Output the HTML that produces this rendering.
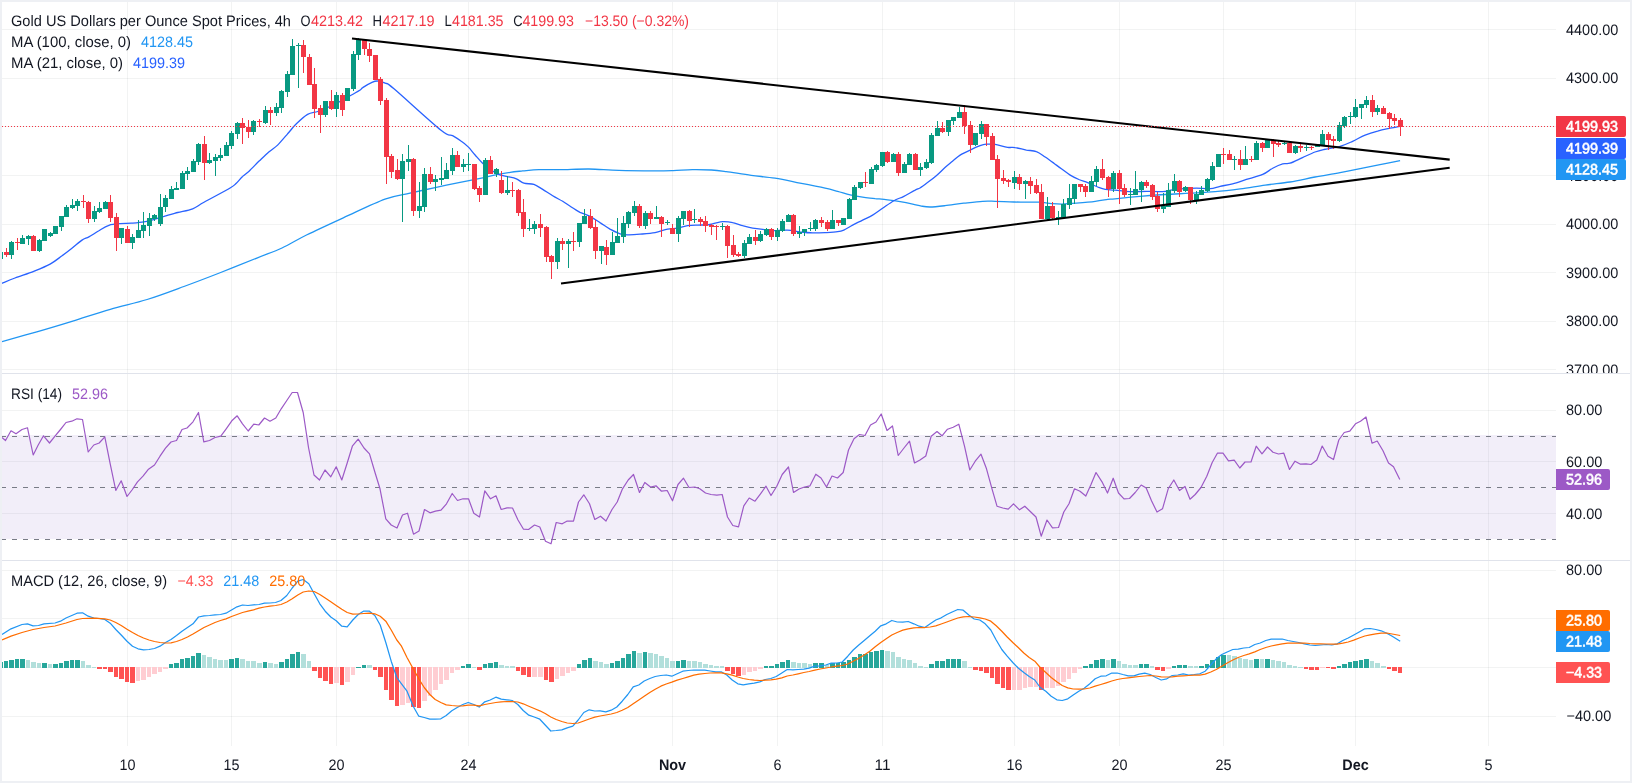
<!DOCTYPE html>
<html><head><meta charset="utf-8"><title>Gold US Dollars per Ounce Spot Prices, 4h</title>
<style>html,body{margin:0;padding:0;background:#fff;overflow:hidden}body{width:1632px;height:783px;position:relative}</style></head>
<body>
<svg width="1632" height="783" viewBox="0 0 1632 783" style="position:absolute;left:0;top:0;will-change:transform;font-family:'Liberation Sans',Arial,sans-serif">
<rect x="0" y="0" width="1632" height="783" fill="#ffffff"/>
<path d="M127.5 2V746 M231.5 2V746 M336.5 2V746 M468.5 2V746 M672.5 2V746 M777.5 2V746 M882.5 2V746 M1014.5 2V746 M1119.5 2V746 M1223.5 2V746 M1355.5 2V746 M1488.5 2V746" stroke="#2a2e39" stroke-opacity="0.06" stroke-width="1" fill="none" shape-rendering="crispEdges"/>
<path d="M2 29.5H1556 M2 78.5H1556 M2 126.5H1556 M2 175.5H1556 M2 224.5H1556 M2 272.5H1556 M2 321.5H1556 M2 369.5H1556 M2 410.5H1556 M2 461.5H1556 M2 513.5H1556 M2 570.5H1556 M2 618.5H1556 M2 667.5H1556 M2 716.5H1556" stroke="#2a2e39" stroke-opacity="0.06" stroke-width="1" fill="none" shape-rendering="crispEdges"/>
<rect x="2" y="435" width="1554" height="104" fill="#7e57c2" fill-opacity="0.1"/>
<path d="M1 436.5H1556" stroke="#787b86" stroke-width="1" stroke-dasharray="5 6" shape-rendering="crispEdges"/>
<path d="M1 487.5H1556" stroke="#787b86" stroke-width="1" stroke-dasharray="5 6" shape-rendering="crispEdges"/>
<path d="M1 539.5H1556" stroke="#787b86" stroke-width="1" stroke-dasharray="5 6" shape-rendering="crispEdges"/>
<clipPath id="cm"><rect x="2" y="2" width="1554" height="371"/></clipPath>
<g clip-path="url(#cm)">
<path d="M2.0 341.7C7.8 340.0 24.8 335.3 36.8 331.8C48.7 328.4 61.3 324.6 73.6 320.8C85.8 317.0 98.1 312.8 110.3 309.3C122.6 305.7 134.9 303.3 147.1 299.5C159.4 295.7 171.7 291.0 183.9 286.5C196.2 282.0 208.4 277.3 220.7 272.5C233.0 267.7 247.3 261.9 257.5 257.8C267.7 253.7 273.8 251.8 282.0 248.0C290.2 244.2 296.3 240.0 306.5 235.0C316.7 230.0 330.2 223.8 343.3 217.8C356.4 211.9 373.9 203.3 385.0 199.2C396.1 195.1 401.7 195.1 410.0 193.2C418.4 191.3 426.7 189.4 435.1 187.6C443.4 185.8 451.8 184.0 460.1 182.3C468.4 180.6 478.9 178.6 485.1 177.3C491.4 176.0 493.5 175.3 497.6 174.4C501.8 173.6 506.0 172.9 510.2 172.3C514.3 171.7 517.9 171.4 522.7 170.9C527.5 170.5 532.7 169.9 538.9 169.7C545.2 169.5 551.9 169.8 560.2 169.7C568.6 169.6 579.2 168.9 589.0 169.0C598.8 169.2 607.7 170.0 618.8 170.3C629.9 170.6 646.5 170.8 655.6 170.9C664.7 170.9 667.1 170.8 673.2 170.6C679.4 170.4 686.0 169.7 692.4 169.6C698.7 169.5 705.8 169.7 711.5 170.0C717.1 170.3 719.6 170.7 726.2 171.6C732.8 172.5 743.0 174.2 751.2 175.3C759.3 176.4 766.9 176.9 775.0 178.2C783.1 179.5 791.7 181.5 800.0 183.2C808.4 184.8 818.8 186.8 825.1 188.2C831.3 189.5 833.4 190.2 837.6 191.3C841.8 192.4 845.9 193.8 850.1 194.8C854.3 195.8 858.4 196.6 862.6 197.2C866.8 197.8 871.0 198.1 875.1 198.6C879.3 199.0 883.5 199.3 887.6 199.8C891.8 200.3 896.0 200.9 900.2 201.6C904.3 202.3 909.1 203.3 912.7 204.1C916.2 204.8 918.5 205.6 921.4 206.1C924.3 206.6 926.1 207.0 930.0 207.0C933.9 206.9 939.4 206.3 945.0 205.7C950.7 205.1 957.5 203.9 963.8 203.2C970.1 202.5 977.4 201.6 982.6 201.3C987.8 201.0 989.9 201.2 995.1 201.3C1000.3 201.4 1006.6 201.8 1013.9 202.0C1021.2 202.1 1032.6 201.9 1038.9 202.2C1045.2 202.5 1047.7 203.3 1051.4 203.6C1055.2 203.9 1057.3 204.1 1061.4 204.1C1065.6 204.0 1070.8 203.7 1076.4 203.2C1082.1 202.7 1090.0 202.0 1095.2 201.3C1100.4 200.7 1104.4 199.9 1107.7 199.4C1111.0 199.0 1109.6 199.4 1115.0 198.8C1120.4 198.3 1131.7 197.1 1140.0 196.3C1148.4 195.6 1156.7 195.0 1165.1 194.5C1173.4 193.9 1181.8 193.7 1190.1 193.2C1198.4 192.7 1206.8 192.3 1215.1 191.6C1223.5 190.9 1231.8 189.9 1240.2 188.8C1248.5 187.8 1256.9 186.2 1265.2 185.1C1273.5 183.9 1281.7 183.3 1290.0 182.0C1298.3 180.6 1306.7 178.6 1315.0 177.0C1323.4 175.4 1331.7 174.2 1340.1 172.6C1348.4 171.0 1357.8 169.1 1365.1 167.6C1372.4 166.1 1378.0 165.0 1383.9 163.8C1389.7 162.7 1397.4 161.2 1400.1 160.7" stroke="#2196f3" stroke-width="1.3" fill="none" stroke-linejoin="round"/>
<path d="M2.0 283.3C4.2 282.4 9.7 280.0 15.0 278.0C20.3 276.0 28.0 273.7 33.8 271.4C39.6 269.0 45.5 266.6 50.1 264.1C54.7 261.6 57.8 258.9 61.3 256.3C64.9 253.8 67.9 251.5 71.3 248.8C74.8 246.1 79.1 242.1 82.0 240.1C84.9 238.1 86.0 238.5 88.9 236.9C91.7 235.4 95.5 232.6 98.9 230.7C102.2 228.7 105.3 226.5 108.9 225.3C112.4 224.1 116.4 223.9 120.2 223.6C123.9 223.2 127.5 223.5 131.4 223.2C135.4 222.9 140.2 222.6 143.9 221.9C147.7 221.3 150.6 220.4 153.9 219.4C157.3 218.5 160.0 217.4 164.0 216.3C167.9 215.1 172.9 213.8 177.7 212.5C182.5 211.3 188.4 210.5 192.7 208.8C197.1 207.1 197.8 205.7 204.0 202.3C210.2 198.8 224.7 191.2 230.1 188.0C235.4 184.8 234.2 185.2 236.3 183.2C238.4 181.3 240.5 178.3 242.6 176.4C244.7 174.4 246.1 173.9 248.8 171.4C251.5 168.8 255.5 164.6 258.8 161.3C262.2 158.1 265.7 154.7 268.8 152.0C272.0 149.2 274.5 148.1 277.6 145.1C280.7 142.0 284.5 137.4 287.6 133.8C290.8 130.3 293.0 127.0 296.4 123.8C299.7 120.6 304.1 116.4 307.6 114.4C311.2 112.4 314.3 112.7 317.7 111.5C321.0 110.4 323.9 109.2 327.7 107.5C331.4 105.8 336.2 103.4 340.2 101.3C344.2 99.2 348.1 96.9 351.5 95.0C354.8 93.1 358.3 91.2 360.2 90.0C362.1 88.8 360.8 88.8 362.7 87.6C364.6 86.3 369.0 83.7 371.5 82.6C374.0 81.5 375.4 80.8 377.7 81.0C380.0 81.1 382.5 81.9 385.2 83.2C388.0 84.5 384.8 81.0 394.0 88.8C403.2 96.6 430.9 122.2 440.7 130.0C450.5 137.8 449.1 133.8 452.6 135.6C456.0 137.5 458.7 139.4 461.3 141.3C464.0 143.1 465.9 144.6 468.2 146.9C470.5 149.2 472.7 152.3 475.1 155.0C477.5 157.7 479.9 160.7 482.6 163.2C485.3 165.7 488.8 168.2 491.4 170.1C494.0 171.9 495.6 173.3 498.3 174.4C501.0 175.5 504.6 175.8 507.7 176.6C510.7 177.3 513.7 177.7 516.4 178.8C519.1 179.9 521.0 182.3 523.9 183.2C526.8 184.1 530.8 183.4 533.9 184.4C537.1 185.5 539.6 187.6 542.7 189.4C545.8 191.3 549.4 193.7 552.7 195.7C556.0 197.7 559.8 199.6 562.7 201.3C565.6 203.1 567.4 204.5 570.2 206.3C573.1 208.2 576.7 210.6 580.0 212.3C583.3 213.9 586.7 214.6 590.0 216.3C593.4 218.0 596.7 220.4 600.0 222.6C603.4 224.7 606.7 227.2 610.0 229.1C613.4 230.9 617.1 232.9 620.1 233.8C623.0 234.8 624.2 234.8 627.6 234.8C630.9 234.9 635.5 234.6 640.1 234.2C644.7 233.8 650.5 233.4 655.1 232.6C659.7 231.7 663.9 229.9 667.6 229.2C671.4 228.5 674.3 228.8 677.6 228.2C681.0 227.6 684.3 226.2 687.6 225.7C691.0 225.2 694.3 225.2 697.6 225.1C701.0 224.9 704.7 225.1 707.7 224.8C710.6 224.5 712.7 223.7 715.2 223.2C717.7 222.7 719.8 221.8 722.7 221.7C725.6 221.6 729.4 221.9 732.7 222.6C736.0 223.2 739.4 224.7 742.7 225.7C746.0 226.6 749.4 227.6 752.7 228.2C756.1 228.8 759.4 229.1 762.7 229.4C766.1 229.7 770.7 229.8 772.7 230.1C774.8 230.3 772.5 230.7 775.0 230.7C777.5 230.7 783.3 229.9 787.5 230.1C791.7 230.3 795.9 231.5 800.0 232.0C804.2 232.4 808.4 232.8 812.5 232.9C816.7 233.0 820.9 232.8 825.1 232.6C829.2 232.4 834.4 232.2 837.6 231.7C840.7 231.3 841.3 231.2 843.8 230.1C846.3 229.0 849.5 226.8 852.6 225.1C855.7 223.4 859.3 221.8 862.6 220.1C865.9 218.4 869.3 217.1 872.6 215.1C876.0 213.1 879.1 210.6 882.6 208.2C886.2 205.8 890.4 202.7 893.9 200.7C897.4 198.7 900.4 198.1 903.9 196.3C907.5 194.5 912.5 191.4 915.2 190.1C917.9 188.7 917.9 189.2 920.0 188.0C922.1 186.8 924.8 184.7 927.5 182.6C930.2 180.6 933.4 178.2 936.3 175.7C939.2 173.2 942.3 170.0 945.0 167.6C947.7 165.2 950.0 163.4 952.5 161.3C955.0 159.3 957.1 157.0 960.1 155.1C963.0 153.2 966.7 151.6 970.1 150.1C973.4 148.5 977.4 146.7 980.1 145.7C982.8 144.7 983.8 144.4 986.3 144.2C988.8 144.0 991.5 143.9 995.1 144.4C998.6 145.0 1004.3 146.8 1007.6 147.3C1010.9 147.8 1012.0 147.1 1015.1 147.6C1018.2 148.0 1022.8 149.4 1026.4 150.1C1029.9 150.7 1033.3 150.4 1036.4 151.6C1039.5 152.7 1042.2 155.0 1045.2 157.0C1048.1 158.9 1051.2 161.2 1053.9 163.2C1056.6 165.2 1058.7 166.9 1061.4 168.8C1064.1 170.8 1067.3 173.3 1070.2 175.1C1073.1 176.9 1076.0 178.2 1078.9 179.5C1081.9 180.7 1084.6 181.4 1087.7 182.6C1090.8 183.9 1094.8 185.9 1097.7 187.0C1100.6 188.1 1102.5 188.9 1105.2 189.4C1107.9 189.9 1112.4 190.0 1114.0 190.1C1115.6 190.2 1113.2 189.9 1115.0 190.1C1116.8 190.3 1121.7 191.1 1125.0 191.3C1128.4 191.6 1131.5 191.7 1135.0 191.7C1138.6 191.7 1141.7 191.4 1146.3 191.3C1150.9 191.3 1158.2 191.8 1162.6 191.6C1166.9 191.3 1169.0 190.3 1172.6 189.8C1176.1 189.3 1179.9 188.9 1183.8 188.6C1187.8 188.3 1192.0 188.2 1196.4 188.2C1200.7 188.2 1206.2 188.9 1210.1 188.6C1214.1 188.3 1216.4 187.1 1220.1 186.3C1223.9 185.5 1228.3 185.0 1232.6 183.8C1237.0 182.7 1241.4 181.0 1246.4 179.4C1251.4 177.9 1258.3 176.3 1262.7 174.4C1267.1 172.6 1269.4 170.0 1272.7 168.2C1276.0 166.4 1279.8 164.6 1282.7 163.8C1285.6 163.0 1286.7 164.3 1290.0 163.2C1293.3 162.2 1298.3 159.5 1302.5 157.6C1306.7 155.7 1311.5 153.3 1315.0 152.0C1318.6 150.6 1319.6 150.4 1323.8 149.5C1328.0 148.5 1335.3 147.7 1340.1 146.3C1344.9 145.0 1348.4 143.2 1352.6 141.3C1356.8 139.4 1360.9 136.8 1365.1 135.1C1369.3 133.4 1373.4 132.2 1377.6 131.1C1381.8 129.9 1386.4 129.0 1390.1 128.2C1393.9 127.4 1398.5 126.6 1400.1 126.3" stroke="#2962ff" stroke-width="1.3" fill="none" stroke-linejoin="round"/>
<path d="M0.0 252h1V259h-1zM-2.0 252h5V259h-5zM11.0 241h1V259h-1zM9.0 242h5V255h-5zM22.0 235h1V244h-1zM20.0 238h5V244h-5zM28.0 235h1V245h-1zM26.0 236h5V239h-5zM39.0 239h1V252h-1zM37.0 240h5V251h-5zM44.0 229h1V241h-1zM42.0 229h5V241h-5zM50.0 232h1V237h-1zM48.0 233h5V236h-5zM55.0 226h1V234h-1zM53.0 226h5V234h-5zM61.0 216h1V231h-1zM59.0 216h5V227h-5zM66.0 205h1V217h-1zM64.0 207h5V217h-5zM72.0 199h1V209h-1zM70.0 205h5V208h-5zM77.0 199h1V211h-1zM75.0 201h5V206h-5zM94.0 206h1V222h-1zM92.0 211h5V219h-5zM99.0 202h1V213h-1zM97.0 208h5V212h-5zM105.0 201h1V209h-1zM103.0 202h5V209h-5zM121.0 228h1V244h-1zM119.0 228h5V238h-5zM132.0 234h1V249h-1zM130.0 237h5V243h-5zM138.0 220h1V238h-1zM136.0 230h5V238h-5zM143.0 212h1V238h-1zM141.0 225h5V231h-5zM149.0 213h1V236h-1zM147.0 218h5V226h-5zM154.0 214h1V221h-1zM152.0 215h5V219h-5zM160.0 194h1V226h-1zM158.0 207h5V224h-5zM165.0 195h1V212h-1zM163.0 198h5V207h-5zM171.0 186h1V199h-1zM169.0 189h5V199h-5zM176.0 182h1V190h-1zM174.0 188h5V190h-5zM182.0 171h1V189h-1zM180.0 173h5V189h-5zM187.0 167h1V180h-1zM185.0 171h5V174h-5zM193.0 159h1V172h-1zM191.0 161h5V172h-5zM198.0 143h1V165h-1zM196.0 144h5V162h-5zM209.0 153h1V164h-1zM207.0 160h5V163h-5zM215.0 154h1V176h-1zM213.0 157h5V161h-5zM220.0 148h1V161h-1zM218.0 155h5V158h-5zM226.0 142h1V156h-1zM224.0 145h5V156h-5zM231.0 131h1V149h-1zM229.0 133h5V146h-5zM237.0 122h1V139h-1zM235.0 123h5V134h-5zM253.0 120h1V135h-1zM251.0 121h5V132h-5zM265.0 106h1V124h-1zM263.0 110h5V123h-5zM276.0 103h1V116h-1zM274.0 107h5V113h-5zM281.0 90h1V113h-1zM279.0 91h5V108h-5zM287.0 71h1V97h-1zM285.0 74h5V92h-5zM292.0 39h1V75h-1zM290.0 46h5V75h-5zM298.0 43h1V88h-1zM296.0 45h5V46h-5zM325.0 101h1V117h-1zM323.0 101h5V115h-5zM336.0 92h1V117h-1zM334.0 95h5V109h-5zM347.0 88h1V101h-1zM345.0 88h5V101h-5zM353.0 51h1V91h-1zM351.0 54h5V89h-5zM358.0 38h1V60h-1zM356.0 40h5V55h-5zM402.0 154h1V222h-1zM400.0 161h5V179h-5zM408.0 145h1V171h-1zM406.0 159h5V162h-5zM419.0 182h1V218h-1zM417.0 206h5V211h-5zM424.0 168h1V212h-1zM422.0 174h5V207h-5zM435.0 175h1V191h-1zM433.0 179h5V182h-5zM441.0 157h1V185h-1zM439.0 178h5V180h-5zM446.0 163h1V179h-1zM444.0 170h5V179h-5zM452.0 148h1V175h-1zM450.0 155h5V171h-5zM463.0 159h1V172h-1zM461.0 164h5V167h-5zM468.0 153h1V171h-1zM466.0 164h5V165h-5zM485.0 158h1V195h-1zM483.0 160h5V195h-5zM496.0 168h1V177h-1zM494.0 169h5V174h-5zM507.0 176h1V195h-1zM505.0 190h5V193h-5zM529.0 219h1V231h-1zM527.0 228h5V229h-5zM534.0 221h1V234h-1zM532.0 224h5V229h-5zM557.0 238h1V269h-1zM555.0 241h5V262h-5zM568.0 239h1V268h-1zM566.0 241h5V244h-5zM579.0 223h1V247h-1zM577.0 223h5V242h-5zM584.0 209h1V224h-1zM582.0 216h5V224h-5zM601.0 246h1V264h-1zM599.0 246h5V251h-5zM612.0 232h1V255h-1zM610.0 242h5V255h-5zM617.0 218h1V243h-1zM615.0 236h5V243h-5zM623.0 216h1V243h-1zM621.0 223h5V237h-5zM628.0 211h1V228h-1zM626.0 212h5V224h-5zM634.0 201h1V216h-1zM632.0 206h5V213h-5zM645.0 211h1V229h-1zM643.0 213h5V226h-5zM656.0 206h1V219h-1zM654.0 217h5V219h-5zM667.0 220h1V225h-1zM665.0 222h5V223h-5zM678.0 216h1V242h-1zM676.0 218h5V234h-5zM683.0 211h1V225h-1zM681.0 211h5V219h-5zM694.0 209h1V223h-1zM692.0 219h5V220h-5zM722.0 223h1V230h-1zM720.0 226h5V227h-5zM744.0 240h1V258h-1zM742.0 243h5V256h-5zM749.0 234h1V244h-1zM747.0 237h5V244h-5zM760.0 231h1V242h-1zM758.0 234h5V241h-5zM766.0 228h1V236h-1zM764.0 229h5V235h-5zM777.0 228h1V241h-1zM775.0 230h5V237h-5zM782.0 219h1V232h-1zM780.0 221h5V231h-5zM788.0 214h1V222h-1zM786.0 215h5V222h-5zM799.0 226h1V238h-1zM797.0 232h5V234h-5zM804.0 229h1V236h-1zM802.0 229h5V232h-5zM810.0 222h1V231h-1zM808.0 228h5V229h-5zM815.0 219h1V231h-1zM813.0 220h5V229h-5zM832.0 210h1V229h-1zM830.0 220h5V229h-5zM843.0 218h1V225h-1zM841.0 218h5V225h-5zM849.0 198h1V219h-1zM847.0 199h5V219h-5zM854.0 185h1V200h-1zM852.0 187h5V200h-5zM860.0 182h1V189h-1zM858.0 182h5V188h-5zM871.0 167h1V184h-1zM869.0 169h5V184h-5zM876.0 164h1V172h-1zM874.0 165h5V170h-5zM882.0 152h1V167h-1zM880.0 152h5V166h-5zM893.0 153h1V162h-1zM891.0 154h5V162h-5zM904.0 162h1V173h-1zM902.0 164h5V173h-5zM909.0 153h1V165h-1zM907.0 154h5V165h-5zM920.0 163h1V176h-1zM918.0 167h5V170h-5zM926.0 159h1V169h-1zM924.0 162h5V168h-5zM931.0 133h1V164h-1zM929.0 135h5V163h-5zM937.0 121h1V136h-1zM935.0 128h5V136h-5zM948.0 120h1V136h-1zM946.0 120h5V132h-5zM953.0 117h1V125h-1zM951.0 117h5V121h-5zM959.0 107h1V118h-1zM957.0 112h5V118h-5zM975.0 133h1V146h-1zM973.0 133h5V145h-5zM981.0 121h1V139h-1zM979.0 124h5V134h-5zM1014.0 171h1V189h-1zM1012.0 177h5V183h-5zM1025.0 180h1V199h-1zM1023.0 181h5V184h-5zM1047.0 197h1V220h-1zM1045.0 206h5V219h-5zM1058.0 211h1V225h-1zM1056.0 217h5V218h-5zM1063.0 199h1V218h-1zM1061.0 204h5V218h-5zM1069.0 184h1V209h-1zM1067.0 198h5V205h-5zM1074.0 184h1V204h-1zM1072.0 184h5V199h-5zM1091.0 176h1V192h-1zM1089.0 181h5V192h-5zM1096.0 166h1V186h-1zM1094.0 169h5V182h-5zM1113.0 171h1V192h-1zM1111.0 173h5V189h-5zM1130.0 188h1V205h-1zM1128.0 194h5V195h-5zM1135.0 171h1V195h-1zM1133.0 189h5V195h-5zM1141.0 181h1V202h-1zM1139.0 182h5V190h-5zM1163.0 193h1V213h-1zM1161.0 206h5V209h-5zM1168.0 183h1V207h-1zM1166.0 190h5V207h-5zM1174.0 174h1V193h-1zM1172.0 181h5V191h-5zM1185.0 186h1V192h-1zM1183.0 187h5V191h-5zM1196.0 191h1V204h-1zM1194.0 194h5V200h-5zM1201.0 186h1V195h-1zM1199.0 190h5V195h-5zM1207.0 178h1V192h-1zM1205.0 179h5V191h-5zM1212.0 162h1V181h-1zM1210.0 166h5V180h-5zM1218.0 154h1V167h-1zM1216.0 154h5V167h-5zM1234.0 156h1V170h-1zM1232.0 159h5V160h-5zM1245.0 146h1V165h-1zM1243.0 159h5V165h-5zM1256.0 141h1V160h-1zM1254.0 143h5V160h-5zM1267.0 140h1V148h-1zM1265.0 140h5V148h-5zM1284.0 142h1V145h-1zM1282.0 143h5V144h-5zM1295.0 145h1V154h-1zM1293.0 146h5V153h-5zM1306.0 145h1V151h-1zM1304.0 147h5V148h-5zM1317.0 144h1V147h-1zM1315.0 144h5V147h-5zM1322.0 130h1V145h-1zM1320.0 134h5V145h-5zM1339.0 122h1V142h-1zM1337.0 125h5V141h-5zM1344.0 116h1V128h-1zM1342.0 117h5V126h-5zM1350.0 112h1V124h-1zM1348.0 116h5V117h-5zM1355.0 99h1V118h-1zM1353.0 107h5V117h-5zM1361.0 104h1V119h-1zM1359.0 104h5V108h-5zM1366.0 96h1V108h-1zM1364.0 100h5V105h-5zM1377.0 105h1V115h-1zM1375.0 108h5V112h-5z" fill="#089981" shape-rendering="crispEdges"/>
<path d="M6.0 248h1V257h-1zM4.0 252h5V255h-5zM17.0 238h1V250h-1zM15.0 242h5V243h-5zM33.0 235h1V251h-1zM31.0 236h5V251h-5zM83.0 195h1V208h-1zM81.0 201h5V202h-5zM88.0 201h1V223h-1zM86.0 202h5V219h-5zM110.0 195h1V222h-1zM108.0 202h5V218h-5zM116.0 213h1V251h-1zM114.0 217h5V238h-5zM127.0 226h1V243h-1zM125.0 229h5V243h-5zM204.0 136h1V180h-1zM202.0 144h5V163h-5zM242.0 118h1V144h-1zM240.0 123h5V128h-5zM248.0 120h1V138h-1zM246.0 127h5V132h-5zM259.0 119h1V127h-1zM257.0 121h5V122h-5zM270.0 107h1V125h-1zM268.0 110h5V113h-5zM303.0 40h1V73h-1zM301.0 45h5V57h-5zM309.0 54h1V85h-1zM307.0 57h5V85h-5zM314.0 68h1V118h-1zM312.0 84h5V109h-5zM320.0 105h1V133h-1zM318.0 108h5V115h-5zM331.0 90h1V110h-1zM329.0 101h5V109h-5zM342.0 93h1V116h-1zM340.0 95h5V110h-5zM364.0 39h1V55h-1zM362.0 40h5V49h-5zM369.0 43h1V62h-1zM367.0 49h5V56h-5zM375.0 55h1V80h-1zM373.0 55h5V80h-5zM380.0 77h1V105h-1zM378.0 79h5V101h-5zM386.0 98h1V184h-1zM384.0 100h5V157h-5zM391.0 154h1V178h-1zM389.0 156h5V172h-5zM397.0 159h1V180h-1zM395.0 170h5V179h-5zM413.0 158h1V216h-1zM411.0 159h5V211h-5zM430.0 167h1V184h-1zM428.0 174h5V182h-5zM457.0 151h1V167h-1zM455.0 155h5V167h-5zM474.0 164h1V190h-1zM472.0 164h5V189h-5zM479.0 186h1V202h-1zM477.0 188h5V195h-5zM490.0 156h1V174h-1zM488.0 160h5V174h-5zM501.0 171h1V194h-1zM499.0 180h5V193h-5zM512.0 182h1V197h-1zM510.0 190h5V191h-5zM518.0 189h1V216h-1zM516.0 190h5V213h-5zM523.0 199h1V237h-1zM521.0 212h5V229h-5zM540.0 214h1V237h-1zM538.0 224h5V228h-5zM546.0 226h1V262h-1zM544.0 227h5V257h-5zM551.0 255h1V279h-1zM549.0 256h5V262h-5zM562.0 238h1V250h-1zM560.0 241h5V244h-5zM573.0 232h1V251h-1zM571.0 241h5V242h-5zM590.0 209h1V229h-1zM588.0 216h5V228h-5zM595.0 220h1V259h-1zM593.0 227h5V251h-5zM606.0 240h1V265h-1zM604.0 247h5V255h-5zM639.0 204h1V228h-1zM637.0 206h5V226h-5zM650.0 211h1V224h-1zM648.0 213h5V219h-5zM661.0 216h1V237h-1zM659.0 217h5V224h-5zM672.0 224h1V234h-1zM670.0 228h5V234h-5zM689.0 210h1V227h-1zM687.0 211h5V221h-5zM700.0 217h1V226h-1zM698.0 219h5V222h-5zM705.0 216h1V232h-1zM703.0 221h5V226h-5zM711.0 224h1V235h-1zM709.0 225h5V227h-5zM716.0 225h1V240h-1zM714.0 226h5V227h-5zM727.0 225h1V258h-1zM725.0 226h5V246h-5zM733.0 235h1V257h-1zM731.0 245h5V255h-5zM738.0 252h1V257h-1zM736.0 254h5V256h-5zM755.0 230h1V245h-1zM753.0 237h5V241h-5zM771.0 228h1V240h-1zM769.0 229h5V237h-5zM793.0 214h1V236h-1zM791.0 215h5V234h-5zM821.0 217h1V227h-1zM819.0 220h5V223h-5zM827.0 220h1V231h-1zM825.0 222h5V229h-5zM838.0 220h1V226h-1zM836.0 220h5V223h-5zM865.0 172h1V187h-1zM863.0 182h5V183h-5zM887.0 151h1V163h-1zM885.0 152h5V162h-5zM898.0 152h1V176h-1zM896.0 154h5V173h-5zM915.0 153h1V170h-1zM913.0 154h5V170h-5zM942.0 122h1V133h-1zM940.0 128h5V132h-5zM964.0 105h1V134h-1zM962.0 112h5V126h-5zM970.0 121h1V153h-1zM968.0 125h5V145h-5zM986.0 124h1V146h-1zM984.0 124h5V137h-5zM992.0 133h1V160h-1zM990.0 136h5V160h-5zM997.0 155h1V208h-1zM995.0 159h5V179h-5zM1003.0 170h1V184h-1zM1001.0 178h5V181h-5zM1008.0 179h1V187h-1zM1006.0 180h5V182h-5zM1019.0 174h1V190h-1zM1017.0 177h5V184h-5zM1030.0 177h1V194h-1zM1028.0 181h5V186h-5zM1036.0 179h1V194h-1zM1034.0 185h5V193h-5zM1041.0 184h1V219h-1zM1039.0 192h5V219h-5zM1052.0 202h1V219h-1zM1050.0 206h5V218h-5zM1080.0 184h1V192h-1zM1078.0 184h5V187h-5zM1085.0 184h1V197h-1zM1083.0 186h5V192h-5zM1102.0 159h1V180h-1zM1100.0 169h5V178h-5zM1108.0 176h1V197h-1zM1106.0 177h5V189h-5zM1119.0 170h1V204h-1zM1117.0 173h5V189h-5zM1124.0 184h1V197h-1zM1122.0 188h5V195h-5zM1146.0 180h1V188h-1zM1144.0 182h5V186h-5zM1152.0 184h1V200h-1zM1150.0 185h5V197h-5zM1157.0 192h1V212h-1zM1155.0 196h5V209h-5zM1179.0 180h1V197h-1zM1177.0 181h5V192h-5zM1190.0 187h1V204h-1zM1188.0 187h5V200h-5zM1223.0 148h1V164h-1zM1221.0 154h5V155h-5zM1229.0 150h1V160h-1zM1227.0 154h5V160h-5zM1240.0 150h1V170h-1zM1238.0 159h5V165h-5zM1251.0 156h1V162h-1zM1249.0 159h5V160h-5zM1262.0 142h1V152h-1zM1260.0 143h5V148h-5zM1273.0 139h1V157h-1zM1271.0 140h5V144h-5zM1278.0 140h1V147h-1zM1276.0 143h5V145h-5zM1289.0 142h1V153h-1zM1287.0 143h5V153h-5zM1300.0 142h1V152h-1zM1298.0 146h5V148h-5zM1311.0 146h1V150h-1zM1309.0 147h5V148h-5zM1328.0 132h1V150h-1zM1326.0 134h5V140h-5zM1333.0 136h1V149h-1zM1331.0 139h5V141h-5zM1372.0 95h1V117h-1zM1370.0 100h5V112h-5zM1383.0 106h1V114h-1zM1381.0 108h5V114h-5zM1389.0 112h1V129h-1zM1387.0 113h5V119h-5zM1394.0 114h1V125h-1zM1392.0 118h5V121h-5zM1400.0 118h1V136h-1zM1398.0 120h5V127h-5z" fill="#f23645" shape-rendering="crispEdges"/>
<path d="M352 38.5L1449.7 159.6M561 283.5L1449.7 167.8" stroke="#000" stroke-width="2.15" fill="none" stroke-linecap="butt"/>
</g>
<path d="M2 126.5H1556" stroke="#f23645" stroke-width="1" stroke-dasharray="1 2" shape-rendering="crispEdges"/>
<path d="M2.0 437.5L5.5 440.5L11.0 430.8L16.0 433.8L22.0 429.5L27.5 427.8L33.2 455.0L38.2 445.0L43.5 435.8L49.5 443.0L55.0 436.2L60.5 429.5L66.0 422.5L71.8 421.2L77.0 418.8L82.5 419.5L88.2 452.0L93.8 445.0L99.2 443.0L104.8 436.8L110.2 463.8L115.8 490.5L121.2 480.8L127.0 496.5L132.0 490.0L137.5 481.8L143.0 476.2L148.5 469.2L154.5 465.0L160.0 456.2L165.5 448.2L171.0 442.0L176.5 440.5L182.0 429.5L187.0 428.0L193.0 421.8L198.5 412.5L203.8 441.8L209.5 440.5L215.0 437.5L220.8 436.2L226.2 428.8L231.8 420.8L237.2 415.8L242.5 423.8L248.2 431.0L253.8 424.2L258.8 425.0L264.5 418.0L270.0 421.2L275.8 418.0L281.2 408.8L286.8 400.5L292.2 392.5L297.5 392.5L303.2 412.5L308.5 447.5L314.0 475.0L319.5 480.0L325.0 470.0L330.8 476.8L336.2 466.8L341.8 480.0L347.2 463.0L352.5 445.8L358.2 439.2L364.0 448.0L369.5 453.8L375.0 472.5L380.0 488.8L385.8 518.8L391.2 525.0L397.0 528.0L402.5 515.0L407.5 513.2L413.5 534.2L419.0 531.0L424.5 509.5L430.0 512.8L435.5 511.2L441.0 510.2L446.5 503.8L452.2 493.5L457.5 500.5L463.0 498.8L468.5 498.8L473.8 513.2L479.5 517.0L484.8 490.8L490.5 498.8L496.0 495.8L501.2 509.5L507.0 507.8L512.5 508.0L518.0 520.0L523.5 529.2L528.5 529.5L534.5 525.0L539.8 527.0L545.5 541.2L551.0 543.8L556.2 522.5L562.2 523.8L567.2 521.0L573.5 521.2L578.5 502.0L583.8 494.8L589.5 503.8L594.8 519.5L600.5 516.2L606.0 521.0L612.0 509.5L617.2 502.0L622.5 488.8L628.2 480.0L633.5 474.5L639.5 492.5L644.8 482.5L650.5 487.0L656.0 485.8L661.5 491.2L667.2 490.5L672.5 500.8L678.0 484.5L683.5 478.2L689.0 487.5L694.8 487.0L699.8 488.8L705.5 493.0L711.0 494.5L716.8 495.2L722.2 494.5L727.5 517.0L732.8 525.5L738.5 526.8L743.8 505.8L749.2 498.0L755.0 501.2L760.5 493.8L766.0 486.2L771.0 495.5L776.8 486.2L782.2 474.5L788.5 467.0L793.5 492.5L799.0 489.0L804.5 487.0L810.0 485.8L815.8 474.2L821.0 478.0L826.5 487.0L832.0 476.0L837.5 478.0L843.2 472.5L848.5 450.0L854.0 438.8L859.5 434.5L865.0 435.5L870.5 425.0L876.0 422.0L881.2 414.0L887.0 430.5L892.5 426.0L898.2 455.5L904.0 448.0L909.5 441.2L914.5 463.0L920.0 460.0L925.8 456.0L931.2 436.2L937.0 431.5L942.0 435.8L947.5 429.2L953.2 427.2L958.8 424.2L964.5 446.2L969.8 470.0L975.2 461.2L981.0 454.2L986.5 468.8L992.0 488.8L997.0 506.2L1002.8 508.0L1008.2 509.2L1013.5 503.8L1019.5 509.8L1024.8 506.2L1030.8 512.0L1036.0 517.0L1041.2 536.2L1047.0 520.0L1052.5 527.8L1058.5 527.5L1063.8 512.0L1069.0 503.8L1074.5 488.8L1080.0 491.2L1085.8 496.0L1091.0 484.5L1096.0 472.5L1102.0 481.8L1107.5 493.0L1113.2 478.2L1118.5 493.0L1124.0 498.8L1129.5 498.5L1135.2 492.5L1141.2 485.0L1146.2 488.0L1151.5 500.8L1157.0 512.0L1162.5 508.8L1168.2 488.8L1173.8 480.0L1179.5 490.5L1185.0 486.5L1190.0 499.2L1195.2 494.5L1201.0 487.5L1206.8 476.2L1212.2 462.5L1217.5 453.0L1223.0 453.2L1228.5 460.8L1234.2 460.2L1239.8 468.0L1245.0 462.0L1251.0 462.0L1256.2 446.2L1262.0 453.8L1267.5 447.0L1273.0 452.2L1278.5 454.0L1283.8 453.2L1289.5 469.5L1295.0 461.2L1300.5 464.2L1306.0 463.8L1311.0 464.5L1316.8 460.0L1322.2 446.0L1328.0 456.2L1333.5 459.5L1338.8 440.0L1344.2 432.5L1349.8 431.2L1355.5 423.8L1360.5 421.2L1366.0 417.0L1372.0 443.2L1377.2 441.0L1383.0 450.8L1388.5 463.0L1393.5 466.8L1399.8 479.5" stroke="#9c59c6" stroke-width="1.2" fill="none" stroke-linejoin="round"/>
<clipPath id="cd"><rect x="2" y="561" width="1554" height="186"/></clipPath><g clip-path="url(#cd)">
<path d="M-2.0 662h5V668h-5zM4.0 661h4V668h-4zM9.0 660h5V668h-5zM15.0 659h4V668h-4zM20.0 659h5V668h-5zM42.0 663h5V668h-5zM53.0 664h5V668h-5zM59.0 663h4V668h-4zM64.0 661h5V668h-5zM70.0 660h4V668h-4zM75.0 660h5V668h-5zM169.0 664h4V668h-4zM174.0 663h5V668h-5zM180.0 659h4V668h-4zM185.0 658h5V668h-5zM191.0 656h4V668h-4zM196.0 653h5V668h-5zM229.0 659h5V668h-5zM235.0 658h4V668h-4zM263.0 662h4V668h-4zM279.0 662h5V668h-5zM285.0 659h4V668h-4zM290.0 654h5V668h-5zM296.0 652h4V668h-4zM356.0 667h5V668h-5zM362.0 665h4V668h-4zM461.0 666h4V668h-4zM466.0 664h5V668h-5zM483.0 664h4V668h-4zM488.0 663h5V668h-5zM494.0 662h4V668h-4zM577.0 664h4V668h-4zM582.0 660h5V668h-5zM588.0 658h4V668h-4zM610.0 663h4V668h-4zM615.0 661h5V668h-5zM621.0 658h4V668h-4zM626.0 654h5V668h-5zM632.0 651h4V668h-4zM643.0 652h4V668h-4zM676.0 661h4V668h-4zM681.0 660h5V668h-5zM764.0 666h4V668h-4zM769.0 666h5V668h-5zM775.0 664h4V668h-4zM780.0 662h5V668h-5zM786.0 660h4V668h-4zM813.0 663h5V668h-5zM819.0 663h5V668h-5zM830.0 663h5V668h-5zM836.0 663h4V668h-4zM841.0 662h5V668h-5zM847.0 660h4V668h-4zM852.0 657h5V668h-5zM858.0 654h4V668h-4zM863.0 654h5V668h-5zM869.0 652h4V668h-4zM874.0 651h5V668h-5zM880.0 650h4V668h-4zM929.0 664h5V668h-5zM935.0 661h4V668h-4zM940.0 661h5V668h-5zM946.0 659h4V668h-4zM951.0 659h5V668h-5zM957.0 659h4V668h-4zM1083.0 666h5V668h-5zM1089.0 664h4V668h-4zM1094.0 660h5V668h-5zM1100.0 659h5V668h-5zM1111.0 659h5V668h-5zM1139.0 664h4V668h-4zM1144.0 664h5V668h-5zM1172.0 666h4V668h-4zM1177.0 665h5V668h-5zM1183.0 665h4V668h-4zM1199.0 666h5V668h-5zM1205.0 664h4V668h-4zM1210.0 660h5V668h-5zM1216.0 657h4V668h-4zM1221.0 655h5V668h-5zM1254.0 659h5V668h-5zM1265.0 659h5V668h-5zM1337.0 666h4V668h-4zM1342.0 664h5V668h-5zM1348.0 662h4V668h-4zM1353.0 661h5V668h-5zM1359.0 660h4V668h-4zM1364.0 659h5V668h-5z" fill="#26a69a" shape-rendering="crispEdges"/>
<path d="M26.0 660h4V668h-4zM31.0 662h5V668h-5zM37.0 663h4V668h-4zM48.0 664h4V668h-4zM81.0 661h4V668h-4zM86.0 665h5V668h-5zM92.0 667h4V668h-4zM202.0 655h4V668h-4zM207.0 657h5V668h-5zM213.0 659h4V668h-4zM218.0 660h5V668h-5zM224.0 660h4V668h-4zM240.0 659h5V668h-5zM246.0 661h4V668h-4zM251.0 661h5V668h-5zM257.0 663h5V668h-5zM268.0 663h5V668h-5zM274.0 664h4V668h-4zM301.0 654h5V668h-5zM307.0 661h4V668h-4zM367.0 665h5V668h-5zM472.0 667h4V668h-4zM499.0 665h5V668h-5zM505.0 666h4V668h-4zM510.0 666h5V668h-5zM593.0 661h5V668h-5zM599.0 662h4V668h-4zM604.0 664h5V668h-5zM637.0 653h5V668h-5zM648.0 653h5V668h-5zM654.0 654h4V668h-4zM659.0 656h5V668h-5zM665.0 658h4V668h-4zM670.0 661h5V668h-5zM687.0 661h4V668h-4zM692.0 661h5V668h-5zM698.0 662h4V668h-4zM703.0 664h5V668h-5zM709.0 665h4V668h-4zM714.0 666h5V668h-5zM720.0 666h4V668h-4zM791.0 662h5V668h-5zM797.0 663h4V668h-4zM802.0 663h5V668h-5zM808.0 664h4V668h-4zM825.0 665h4V668h-4zM885.0 651h5V668h-5zM891.0 652h4V668h-4zM896.0 657h5V668h-5zM902.0 659h4V668h-4zM907.0 660h5V668h-5zM913.0 663h4V668h-4zM918.0 666h5V668h-5zM924.0 667h4V668h-4zM962.0 661h5V668h-5zM968.0 667h4V668h-4zM1106.0 660h4V668h-4zM1117.0 661h4V668h-4zM1122.0 664h5V668h-5zM1128.0 665h4V668h-4zM1133.0 665h5V668h-5zM1150.0 666h4V668h-4zM1188.0 666h5V668h-5zM1194.0 666h4V668h-4zM1227.0 655h4V668h-4zM1232.0 656h5V668h-5zM1238.0 658h4V668h-4zM1243.0 659h5V668h-5zM1249.0 660h4V668h-4zM1260.0 659h4V668h-4zM1271.0 660h4V668h-4zM1276.0 661h5V668h-5zM1282.0 662h4V668h-4zM1287.0 665h5V668h-5zM1293.0 666h4V668h-4zM1298.0 667h5V668h-5zM1370.0 661h4V668h-4zM1375.0 663h5V668h-5zM1381.0 666h5V668h-5z" fill="#b2dfdb" shape-rendering="crispEdges"/>
<path d="M97.0 667h5V669h-5zM103.0 667h4V669h-4zM108.0 667h5V672h-5zM114.0 667h4V677h-4zM119.0 667h5V679h-5zM125.0 667h4V682h-4zM130.0 667h5V683h-5zM312.0 667h5V671h-5zM318.0 667h4V678h-4zM323.0 667h5V681h-5zM329.0 667h4V684h-4zM340.0 667h4V685h-4zM373.0 667h4V670h-4zM378.0 667h5V677h-5zM384.0 667h4V690h-4zM389.0 667h5V700h-5zM395.0 667h4V706h-4zM411.0 667h5V707h-5zM417.0 667h4V708h-4zM477.0 667h5V670h-5zM516.0 667h4V671h-4zM521.0 667h5V675h-5zM527.0 667h4V677h-4zM544.0 667h4V680h-4zM549.0 667h5V682h-5zM725.0 667h5V671h-5zM731.0 667h4V674h-4zM736.0 667h5V676h-5zM973.0 667h5V670h-5zM979.0 667h4V671h-4zM984.0 667h5V673h-5zM990.0 667h4V678h-4zM995.0 667h5V684h-5zM1001.0 667h4V688h-4zM1006.0 667h5V690h-5zM1039.0 667h5V690h-5zM1155.0 667h5V670h-5zM1161.0 667h4V671h-4zM1304.0 667h4V669h-4zM1309.0 667h5V670h-5zM1315.0 667h4V670h-4zM1326.0 667h4V668h-4zM1331.0 667h5V669h-5zM1387.0 667h4V669h-4zM1392.0 667h5V671h-5zM1398.0 667h4V673h-4z" fill="#ff5252" shape-rendering="crispEdges"/>
<path d="M136.0 667h4V681h-4zM141.0 667h5V680h-5zM147.0 667h4V677h-4zM152.0 667h5V674h-5zM158.0 667h4V672h-4zM163.0 667h5V669h-5zM334.0 667h5V683h-5zM345.0 667h5V682h-5zM351.0 667h4V675h-4zM400.0 667h5V705h-5zM406.0 667h4V703h-4zM422.0 667h5V701h-5zM428.0 667h4V696h-4zM433.0 667h5V690h-5zM439.0 667h4V684h-4zM444.0 667h5V680h-5zM450.0 667h4V673h-4zM455.0 667h5V670h-5zM532.0 667h5V677h-5zM538.0 667h5V677h-5zM555.0 667h4V679h-4zM560.0 667h5V676h-5zM566.0 667h4V673h-4zM571.0 667h5V671h-5zM742.0 667h4V675h-4zM747.0 667h5V672h-5zM753.0 667h4V671h-4zM758.0 667h5V669h-5zM1012.0 667h4V690h-4zM1017.0 667h5V690h-5zM1023.0 667h4V688h-4zM1028.0 667h5V687h-5zM1034.0 667h4V687h-4zM1045.0 667h4V688h-4zM1050.0 667h5V688h-5zM1056.0 667h4V686h-4zM1061.0 667h5V682h-5zM1067.0 667h4V679h-4zM1072.0 667h5V673h-5zM1078.0 667h4V669h-4zM1166.0 667h5V669h-5zM1320.0 667h5V668h-5z" fill="#ffcdd2" shape-rendering="crispEdges"/>
<path d="M2.0 634.5L11.0 628.8L22.0 624.5L27.5 623.8L33.0 625.8L38.5 625.5L44.0 623.8L55.0 623.0L60.5 621.2L66.0 618.0L71.8 615.5L77.0 613.2L82.5 612.8L88.2 616.2L93.8 618.0L99.2 618.5L104.8 619.5L110.2 623.2L115.8 629.5L121.2 635.0L127.0 641.2L132.5 646.2L138.0 648.8L143.5 649.8L149.0 649.5L154.5 648.5L160.0 646.2L165.5 642.5L171.0 639.5L176.5 635.5L182.0 631.2L187.5 627.5L193.0 623.8L198.5 617.0L204.0 615.8L209.5 615.5L215.0 614.8L220.5 614.5L226.0 613.2L231.5 610.0L237.0 606.8L242.5 605.0L248.0 605.5L253.5 604.8L259.0 604.5L264.5 603.2L270.0 603.0L275.5 602.5L281.0 600.5L286.8 595.5L292.2 588.0L297.8 581.2L303.2 579.5L308.8 583.8L314.2 593.8L319.8 603.8L325.2 611.2L330.8 617.0L336.2 620.8L341.8 626.2L347.2 626.8L352.8 620.0L358.2 614.5L363.8 611.0L369.2 611.0L374.8 615.5L380.2 625.0L385.8 642.5L391.2 661.2L396.8 677.5L401.5 683.8L407.0 691.2L413.2 706.2L418.8 716.2L424.2 717.5L429.8 719.2L435.2 719.2L440.8 718.8L446.2 715.5L451.8 710.8L457.2 707.5L462.8 704.5L468.2 702.5L473.8 704.5L479.2 707.0L484.8 701.8L490.2 700.0L495.8 697.2L501.2 699.2L506.8 699.8L512.2 700.5L517.8 704.5L523.2 710.5L528.8 715.2L534.2 717.0L539.8 719.2L545.2 725.0L550.8 731.0L556.2 730.5L561.8 729.8L567.2 727.8L572.8 726.2L578.2 720.0L583.8 712.5L589.2 709.8L594.8 711.0L600.2 710.8L605.8 711.8L611.2 710.2L616.8 707.0L622.2 701.2L627.8 694.5L633.2 686.8L638.8 685.0L644.2 681.0L649.8 678.5L655.2 676.5L660.8 675.5L666.2 675.0L671.8 676.2L677.2 673.8L682.8 671.2L688.2 670.5L693.8 670.0L699.2 670.0L704.8 670.2L710.2 671.0L715.8 671.8L721.2 671.8L726.8 675.0L732.2 680.0L737.8 683.8L743.2 684.8L748.8 683.8L754.2 683.2L759.8 681.8L765.2 679.5L770.8 678.5L776.2 676.5L781.8 673.0L787.2 669.5L792.8 669.8L798.2 669.5L803.8 669.2L809.2 668.2L814.8 666.2L820.2 665.8L825.8 665.0L831.2 663.2L836.8 663.0L842.2 662.0L847.8 656.2L853.2 650.0L858.8 645.0L864.2 640.5L869.8 635.8L875.2 631.2L880.8 625.8L886.2 623.8L891.8 620.5L897.2 622.0L902.8 622.2L908.2 621.5L913.8 623.8L919.2 626.2L924.8 627.5L930.2 623.8L935.8 620.0L941.2 617.8L946.8 614.5L952.2 612.0L957.8 609.5L963.2 610.2L968.8 615.0L974.2 619.0L979.8 620.0L985.2 623.8L990.8 630.0L996.2 640.0L1001.8 649.5L1007.2 656.2L1012.8 662.5L1018.2 668.0L1023.8 672.5L1029.2 676.5L1034.8 680.0L1040.2 687.5L1045.8 691.2L1051.2 696.2L1056.8 699.8L1062.2 700.5L1067.8 698.8L1073.2 695.0L1078.8 691.2L1084.2 688.2L1089.8 683.8L1095.2 678.8L1100.8 676.2L1106.2 675.8L1111.8 673.0L1117.2 673.0L1122.8 674.5L1128.2 675.8L1133.8 675.8L1139.2 674.2L1144.8 673.2L1150.2 674.5L1155.8 677.5L1161.2 680.0L1166.8 678.8L1172.2 675.5L1177.8 675.0L1183.2 673.8L1188.8 675.0L1194.2 674.5L1199.8 673.8L1205.2 671.2L1210.8 665.0L1216.2 658.8L1221.8 654.5L1227.2 652.0L1232.8 649.5L1238.2 649.2L1243.8 648.0L1249.2 647.5L1254.8 644.5L1260.2 643.0L1265.8 640.5L1271.2 639.2L1276.8 639.0L1282.2 639.0L1287.8 640.5L1293.2 641.5L1298.8 642.5L1304.2 643.8L1309.8 645.0L1315.2 645.5L1320.8 645.0L1326.2 644.5L1331.8 645.0L1337.2 643.8L1342.8 640.5L1348.2 638.0L1353.8 635.0L1359.2 632.0L1364.8 628.8L1370.2 628.5L1375.8 629.5L1381.2 630.8L1386.8 633.2L1392.2 636.2L1400.2 641.2" stroke="#2196f3" stroke-width="1.25" fill="none" stroke-linejoin="round"/>
<path d="M2.0 640.0L11.0 636.2L22.0 632.5L33.0 629.5L44.0 627.5L55.0 626.0L66.0 623.0L77.0 619.5L82.5 618.5L93.8 618.2L104.8 618.8L110.2 620.0L115.8 622.5L121.2 625.5L127.0 629.2L132.5 632.5L138.0 635.5L143.5 638.0L149.0 640.0L154.5 641.5L160.0 642.5L165.5 643.0L171.0 642.8L176.5 641.5L182.0 639.5L187.5 637.0L193.0 634.0L198.5 630.8L204.0 627.5L209.5 625.0L215.0 622.5L220.5 620.5L226.0 618.8L231.5 616.5L237.0 614.5L242.5 612.5L248.0 611.2L253.5 609.8L259.0 608.2L264.5 607.0L270.0 606.2L275.5 605.5L281.0 604.5L286.8 602.0L292.2 598.8L297.8 595.0L303.2 592.0L308.8 591.0L314.2 591.5L319.8 594.5L325.2 598.0L330.8 601.8L336.2 605.5L341.8 609.2L347.2 612.5L352.8 614.2L358.2 614.0L363.8 613.5L369.2 613.2L374.8 613.8L380.2 616.2L385.8 621.2L391.2 630.0L396.8 640.0L401.5 646.2L407.0 657.5L413.2 668.8L418.8 678.8L424.2 687.5L429.8 694.5L435.2 699.5L440.8 702.5L446.2 704.8L451.8 705.5L457.2 706.0L462.8 705.8L468.2 705.2L473.8 705.2L479.2 705.8L484.8 704.5L490.2 703.5L495.8 702.5L501.2 701.8L506.8 701.5L512.2 701.5L517.8 702.0L523.2 703.8L528.8 706.2L534.2 708.5L539.8 710.8L545.2 713.5L550.8 717.0L556.2 719.5L561.8 721.5L567.2 723.0L572.8 723.5L578.2 723.0L583.8 721.0L589.2 719.0L594.8 717.2L600.2 716.0L605.8 715.0L611.2 714.0L616.8 712.5L622.2 710.2L627.8 707.5L633.2 703.8L638.8 700.0L644.2 696.2L649.8 692.5L655.2 689.2L660.8 686.2L666.2 684.0L671.8 682.2L677.2 680.2L682.8 678.5L688.2 676.8L693.8 675.2L699.2 674.2L704.8 673.5L710.2 673.0L715.8 672.8L721.2 672.8L726.8 673.8L732.2 675.2L737.8 677.0L743.2 678.5L748.8 679.5L754.2 680.2L759.8 680.5L765.2 680.2L770.8 679.8L776.2 679.2L781.8 677.8L787.2 676.0L792.8 675.0L798.2 673.8L803.8 672.5L809.2 671.5L814.8 670.2L820.2 669.0L825.8 668.0L831.2 667.0L836.8 666.2L842.2 665.5L847.8 664.0L853.2 661.2L858.8 658.2L864.2 655.0L869.8 651.2L875.2 646.8L880.8 642.5L886.2 638.8L891.8 635.0L897.2 632.5L902.8 630.2L908.2 628.8L913.8 627.8L919.2 627.5L924.8 627.5L930.2 627.0L935.8 625.8L941.2 624.0L946.8 622.0L952.2 620.0L957.8 618.0L963.2 616.8L968.8 616.5L974.2 617.0L979.8 617.8L985.2 619.0L990.8 621.2L996.2 625.8L1001.8 631.2L1007.2 637.0L1012.8 642.5L1018.2 647.5L1023.8 653.0L1029.2 657.5L1034.8 661.2L1040.2 667.5L1045.8 672.5L1051.2 677.5L1056.8 681.8L1062.2 685.5L1067.8 687.8L1073.2 689.0L1078.8 689.2L1084.2 689.0L1089.8 688.0L1095.2 686.2L1100.8 684.5L1106.2 682.8L1111.8 681.0L1117.2 679.5L1122.8 678.5L1128.2 677.8L1133.8 677.2L1139.2 676.5L1144.8 676.0L1150.2 675.5L1155.8 676.0L1161.2 676.8L1166.8 677.0L1172.2 676.8L1177.8 676.2L1183.2 675.8L1188.8 675.5L1194.2 675.2L1199.8 675.2L1205.2 674.2L1210.8 672.0L1216.2 669.5L1221.8 666.2L1227.2 663.0L1232.8 660.0L1238.2 657.5L1243.8 655.5L1249.2 653.8L1254.8 651.8L1260.2 649.5L1265.8 647.5L1271.2 646.0L1276.8 644.8L1282.2 643.8L1287.8 643.2L1293.2 643.0L1298.8 643.0L1304.2 643.0L1309.8 643.5L1315.2 643.8L1320.8 643.8L1326.2 644.0L1331.8 644.2L1337.2 644.2L1342.8 643.2L1348.2 642.0L1353.8 640.2L1359.2 638.0L1364.8 636.0L1370.2 634.8L1375.8 633.8L1381.2 633.2L1386.8 633.0L1392.2 634.0L1400.2 635.5" stroke="#ff6d00" stroke-width="1.25" fill="none" stroke-linejoin="round"/>
</g>
<path d="M2 373.5H1630M2 560.5H1630" stroke="#e0e3eb" stroke-width="1" shape-rendering="crispEdges"/>
<clipPath id="ca"><rect x="1556" y="2" width="76" height="371"/></clipPath><g clip-path="url(#ca)">
<text x="1566" y="35" fill="#131722" font-size="15.2" font-weight="normal" text-anchor="start" textLength="52.3" lengthAdjust="spacingAndGlyphs" transform="rotate(0.03 1566 35)">4400.00</text>
<text x="1566" y="83" fill="#131722" font-size="15.2" font-weight="normal" text-anchor="start" textLength="52.3" lengthAdjust="spacingAndGlyphs" transform="rotate(0.03 1566 83)">4300.00</text>
<text x="1566" y="181" fill="#131722" font-size="15.2" font-weight="normal" text-anchor="start" textLength="52.3" lengthAdjust="spacingAndGlyphs" transform="rotate(0.03 1566 181)">4100.00</text>
<text x="1566" y="229" fill="#131722" font-size="15.2" font-weight="normal" text-anchor="start" textLength="52.3" lengthAdjust="spacingAndGlyphs" transform="rotate(0.03 1566 229)">4000.00</text>
<text x="1566" y="278" fill="#131722" font-size="15.2" font-weight="normal" text-anchor="start" textLength="52.3" lengthAdjust="spacingAndGlyphs" transform="rotate(0.03 1566 278)">3900.00</text>
<text x="1566" y="326" fill="#131722" font-size="15.2" font-weight="normal" text-anchor="start" textLength="52.3" lengthAdjust="spacingAndGlyphs" transform="rotate(0.03 1566 326)">3800.00</text>
<text x="1566" y="375" fill="#131722" font-size="15.2" font-weight="normal" text-anchor="start" textLength="52.3" lengthAdjust="spacingAndGlyphs" transform="rotate(0.03 1566 375)">3700.00</text>
</g>
<text x="1566" y="415" fill="#131722" font-size="15.2" font-weight="normal" text-anchor="start" textLength="36.3" lengthAdjust="spacingAndGlyphs" transform="rotate(0.03 1566 415)">80.00</text>
<text x="1566" y="467" fill="#131722" font-size="15.2" font-weight="normal" text-anchor="start" textLength="36.3" lengthAdjust="spacingAndGlyphs" transform="rotate(0.03 1566 467)">60.00</text>
<text x="1566" y="519" fill="#131722" font-size="15.2" font-weight="normal" text-anchor="start" textLength="36.3" lengthAdjust="spacingAndGlyphs" transform="rotate(0.03 1566 519)">40.00</text>
<text x="1566" y="575" fill="#131722" font-size="15.2" font-weight="normal" text-anchor="start" textLength="36.3" lengthAdjust="spacingAndGlyphs" transform="rotate(0.03 1566 575)">80.00</text>
<text x="1566.5" y="721" fill="#131722" font-size="15.2" font-weight="normal" text-anchor="start" textLength="44.7" lengthAdjust="spacingAndGlyphs" transform="rotate(0.03 1566.5 721)">−40.00</text>
<path d="M1556 116h68a2 2 0 0 1 2 2v17a2 2 0 0 1 -2 2h-68z" fill="#f23645"/>
<text x="1566" y="131.6" fill="#fff" font-size="15.2" font-weight="normal" text-anchor="start" textLength="52" lengthAdjust="spacingAndGlyphs" stroke="#fff" stroke-width="0.55" transform="rotate(0.03 1566 131.6)">4199.93</text>
<path d="M1556 138h68a2 2 0 0 1 2 2v17a2 2 0 0 1 -2 2h-68z" fill="#2962ff"/>
<text x="1566" y="153.6" fill="#fff" font-size="15.2" font-weight="normal" text-anchor="start" textLength="52" lengthAdjust="spacingAndGlyphs" stroke="#fff" stroke-width="0.55" transform="rotate(0.03 1566 153.6)">4199.39</text>
<path d="M1556 159h68a2 2 0 0 1 2 2v17a2 2 0 0 1 -2 2h-68z" fill="#2196f3"/>
<text x="1566" y="174.6" fill="#fff" font-size="15.2" font-weight="normal" text-anchor="start" textLength="52" lengthAdjust="spacingAndGlyphs" stroke="#fff" stroke-width="0.55" transform="rotate(0.03 1566 174.6)">4128.45</text>
<path d="M1556 469h52a2 2 0 0 1 2 2v17a2 2 0 0 1 -2 2h-52z" fill="#9c59c6"/>
<text x="1566" y="484.6" fill="#fff" font-size="15.2" font-weight="normal" text-anchor="start" textLength="36" lengthAdjust="spacingAndGlyphs" stroke="#fff" stroke-width="0.55" transform="rotate(0.03 1566 484.6)">52.96</text>
<path d="M1556 610h52a2 2 0 0 1 2 2v17a2 2 0 0 1 -2 2h-52z" fill="#ff6d00"/>
<text x="1566" y="625.6" fill="#fff" font-size="15.2" font-weight="normal" text-anchor="start" textLength="36" lengthAdjust="spacingAndGlyphs" stroke="#fff" stroke-width="0.55" transform="rotate(0.03 1566 625.6)">25.80</text>
<path d="M1556 631h52a2 2 0 0 1 2 2v17a2 2 0 0 1 -2 2h-52z" fill="#2196f3"/>
<text x="1566" y="646.6" fill="#fff" font-size="15.2" font-weight="normal" text-anchor="start" textLength="36" lengthAdjust="spacingAndGlyphs" stroke="#fff" stroke-width="0.55" transform="rotate(0.03 1566 646.6)">21.48</text>
<path d="M1556 662h52a2 2 0 0 1 2 2v17a2 2 0 0 1 -2 2h-52z" fill="#ff5252"/>
<text x="1566" y="677.6" fill="#fff" font-size="15.2" font-weight="normal" text-anchor="start" textLength="36" lengthAdjust="spacingAndGlyphs" stroke="#fff" stroke-width="0.55" transform="rotate(0.03 1566 677.6)">−4.33</text>
<text x="11" y="26" fill="#131722" font-size="15.2" font-weight="normal" text-anchor="start" textLength="280" lengthAdjust="spacingAndGlyphs" transform="rotate(0.03 11 26)">Gold US Dollars per Ounce Spot Prices, 4h</text>
<text x="300.6" y="26" fill="#131722" font-size="15.2" font-weight="normal" text-anchor="start" textLength="10" lengthAdjust="spacingAndGlyphs" transform="rotate(0.03 300.6 26)">O</text>
<text x="311" y="26" fill="#f23645" font-size="15.2" font-weight="normal" text-anchor="start" textLength="52" lengthAdjust="spacingAndGlyphs" transform="rotate(0.03 311 26)">4213.42</text>
<text x="372.6" y="26" fill="#131722" font-size="15.2" font-weight="normal" text-anchor="start" textLength="9.5" lengthAdjust="spacingAndGlyphs" transform="rotate(0.03 372.6 26)">H</text>
<text x="382.4" y="26" fill="#f23645" font-size="15.2" font-weight="normal" text-anchor="start" textLength="52" lengthAdjust="spacingAndGlyphs" transform="rotate(0.03 382.4 26)">4217.19</text>
<text x="444.4" y="26" fill="#131722" font-size="15.2" font-weight="normal" text-anchor="start" textLength="7.3" lengthAdjust="spacingAndGlyphs" transform="rotate(0.03 444.4 26)">L</text>
<text x="452" y="26" fill="#f23645" font-size="15.2" font-weight="normal" text-anchor="start" textLength="51.5" lengthAdjust="spacingAndGlyphs" transform="rotate(0.03 452 26)">4181.35</text>
<text x="513.2" y="26" fill="#131722" font-size="15.2" font-weight="normal" text-anchor="start" textLength="9.3" lengthAdjust="spacingAndGlyphs" transform="rotate(0.03 513.2 26)">C</text>
<text x="522.4" y="26" fill="#f23645" font-size="15.2" font-weight="normal" text-anchor="start" textLength="51.5" lengthAdjust="spacingAndGlyphs" transform="rotate(0.03 522.4 26)">4199.93</text>
<text x="585" y="26" fill="#f23645" font-size="15.2" font-weight="normal" text-anchor="start" textLength="104" lengthAdjust="spacingAndGlyphs" transform="rotate(0.03 585 26)">−13.50 (−0.32%)</text>
<text x="11" y="47" fill="#131722" font-size="15.2" font-weight="normal" text-anchor="start" textLength="120" lengthAdjust="spacingAndGlyphs" transform="rotate(0.03 11 47)">MA (100, close, 0)</text>
<text x="141" y="47" fill="#2196f3" font-size="15.2" font-weight="normal" text-anchor="start" textLength="52" lengthAdjust="spacingAndGlyphs" transform="rotate(0.03 141 47)">4128.45</text>
<text x="11" y="68" fill="#131722" font-size="15.2" font-weight="normal" text-anchor="start" textLength="112" lengthAdjust="spacingAndGlyphs" transform="rotate(0.03 11 68)">MA (21, close, 0)</text>
<text x="133" y="68" fill="#2962ff" font-size="15.2" font-weight="normal" text-anchor="start" textLength="52" lengthAdjust="spacingAndGlyphs" transform="rotate(0.03 133 68)">4199.39</text>
<text x="11" y="399" fill="#131722" font-size="15.2" font-weight="normal" text-anchor="start" textLength="51" lengthAdjust="spacingAndGlyphs" transform="rotate(0.03 11 399)">RSI (14)</text>
<text x="72" y="399" fill="#9c59c6" font-size="15.2" font-weight="normal" text-anchor="start" textLength="36" lengthAdjust="spacingAndGlyphs" transform="rotate(0.03 72 399)">52.96</text>
<text x="11" y="586" fill="#131722" font-size="15.2" font-weight="normal" text-anchor="start" textLength="156" lengthAdjust="spacingAndGlyphs" transform="rotate(0.03 11 586)">MACD (12, 26, close, 9)</text>
<text x="177.5" y="586" fill="#ff5252" font-size="15.2" font-weight="normal" text-anchor="start" textLength="36" lengthAdjust="spacingAndGlyphs" transform="rotate(0.03 177.5 586)">−4.33</text>
<text x="223.3" y="586" fill="#2196f3" font-size="15.2" font-weight="normal" text-anchor="start" textLength="36" lengthAdjust="spacingAndGlyphs" transform="rotate(0.03 223.3 586)">21.48</text>
<text x="269.3" y="586" fill="#ff6d00" font-size="15.2" font-weight="normal" text-anchor="start" textLength="36" lengthAdjust="spacingAndGlyphs" transform="rotate(0.03 269.3 586)">25.80</text>
<text x="127.5" y="770" fill="#131722" font-size="15.2" font-weight="normal" text-anchor="middle" textLength="16" lengthAdjust="spacingAndGlyphs" transform="rotate(0.03 127.5 770)">10</text>
<text x="231.5" y="770" fill="#131722" font-size="15.2" font-weight="normal" text-anchor="middle" textLength="16" lengthAdjust="spacingAndGlyphs" transform="rotate(0.03 231.5 770)">15</text>
<text x="336.5" y="770" fill="#131722" font-size="15.2" font-weight="normal" text-anchor="middle" textLength="16" lengthAdjust="spacingAndGlyphs" transform="rotate(0.03 336.5 770)">20</text>
<text x="468.5" y="770" fill="#131722" font-size="15.2" font-weight="normal" text-anchor="middle" textLength="16" lengthAdjust="spacingAndGlyphs" transform="rotate(0.03 468.5 770)">24</text>
<text x="672.5" y="770" fill="#131722" font-size="15.2" font-weight="bold" text-anchor="middle" textLength="27.2" lengthAdjust="spacingAndGlyphs" transform="rotate(0.03 672.5 770)">Nov</text>
<text x="777.5" y="770" fill="#131722" font-size="15.2" font-weight="normal" text-anchor="middle" textLength="8" lengthAdjust="spacingAndGlyphs" transform="rotate(0.03 777.5 770)">6</text>
<text x="882.5" y="770" fill="#131722" font-size="15.2" font-weight="normal" text-anchor="middle" textLength="16" lengthAdjust="spacingAndGlyphs" transform="rotate(0.03 882.5 770)">11</text>
<text x="1014.5" y="770" fill="#131722" font-size="15.2" font-weight="normal" text-anchor="middle" textLength="16" lengthAdjust="spacingAndGlyphs" transform="rotate(0.03 1014.5 770)">16</text>
<text x="1119.5" y="770" fill="#131722" font-size="15.2" font-weight="normal" text-anchor="middle" textLength="16" lengthAdjust="spacingAndGlyphs" transform="rotate(0.03 1119.5 770)">20</text>
<text x="1223.5" y="770" fill="#131722" font-size="15.2" font-weight="normal" text-anchor="middle" textLength="16" lengthAdjust="spacingAndGlyphs" transform="rotate(0.03 1223.5 770)">25</text>
<text x="1355.5" y="770" fill="#131722" font-size="15.2" font-weight="bold" text-anchor="middle" textLength="26.4" lengthAdjust="spacingAndGlyphs" transform="rotate(0.03 1355.5 770)">Dec</text>
<text x="1488.5" y="770" fill="#131722" font-size="15.2" font-weight="normal" text-anchor="middle" textLength="8" lengthAdjust="spacingAndGlyphs" transform="rotate(0.03 1488.5 770)">5</text>
<path d="M0 0H1632V783H0z M2 2V781H1630V2z" fill="#eef0f4" fill-rule="evenodd"/>
</svg>
</body></html>
